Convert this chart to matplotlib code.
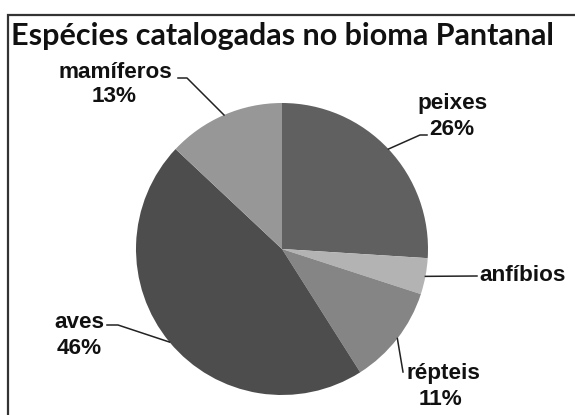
import matplotlib
matplotlib.use("Agg")
import matplotlib.pyplot as plt
from matplotlib.lines import Line2D
from matplotlib.patches import Rectangle
import numpy as np

titulo = "Espécies catalogadas no bioma Pantanal"
especies = ["peixes", "anfíbios", "répteis", "aves", "mamíferos"]
porcentagens = [26, 4, 11, 46, 13]
mostrar_pct = [True, False, True, True, True]
cores = ["#606060", "#b3b3b3", "#858585", "#4d4d4d", "#979797"]

W, H = 575, 415
fig = plt.figure(figsize=(W / 100, H / 100), dpi=100)


def fig_xy(px, py):
    # pixel (from top-left) -> figure fraction
    return px / W, 1 - py / H


# pie area: square 292 px, centre at (282, 249)
ax = fig.add_axes([136 / W, 1 - 395 / H, 292 / W, 292 / H])
wedges, _ = ax.pie(porcentagens, colors=cores, startangle=90, counterclock=False,
                   radius=1, wedgeprops=dict(linewidth=0))
ax.set_xlim(-1, 1)
ax.set_ylim(-1, 1)
ax.axis("off")

# layout of labels: (elbow point, line end, name xy, pct xy, ha)
layout = {
    "peixes": ((420, 135), (427, 135), (453, 104), (452, 129), "center"),
    "anfíbios": ((477, 276), (477, 276), (479, 275), None, "left"),
    "répteis": ((403, 372), (403, 372), (406, 373), (441, 399), "left"),
    "aves": ((118, 325), (107, 325), (79, 322), (79, 348), "center"),
    "mamíferos": ((187, 78), (178, 78), (115, 72), (114, 97), "center"),
}

fonte = dict(family="Liberation Sans", weight="heavy", size=16.2, color="#111111")
to_fig = fig.transFigure.inverted()
for w, nome, v, mp in zip(wedges, especies, porcentagens, mostrar_pct):
    ang = np.deg2rad((w.theta1 + w.theta2) / 2)
    p0 = ax.transData.transform((np.cos(ang), np.sin(ang)))
    p0 = to_fig.transform(p0)
    elbow, end, pn, pp, ha = layout[nome]
    e1 = fig_xy(*elbow)
    e2 = fig_xy(*end)
    fig.add_artist(Line2D([p0[0], e1[0], e2[0]], [p0[1], e1[1], e2[1]],
                          color="#222222", linewidth=1.1))
    fig.text(*fig_xy(*pn), nome, ha=ha, va="center", **fonte)
    if mp:
        fig.text(*fig_xy(*pp), f"{v}%", ha="center", va="center", **fonte)

fig.text(*fig_xy(282, 36), titulo, ha="center", va="center",
         family="Lato", weight="bold", size=22, color="#111111")

# frame (only top and left edges visible in the crop)
fig.add_artist(Rectangle(fig_xy(7.5, 440), 600 / W, (440 - 15) / H,
                         transform=fig.transFigure, fill=False,
                         edgecolor="#333333", linewidth=1.6, clip_on=False))

fig.savefig("out.png", dpi=100, facecolor="white")
